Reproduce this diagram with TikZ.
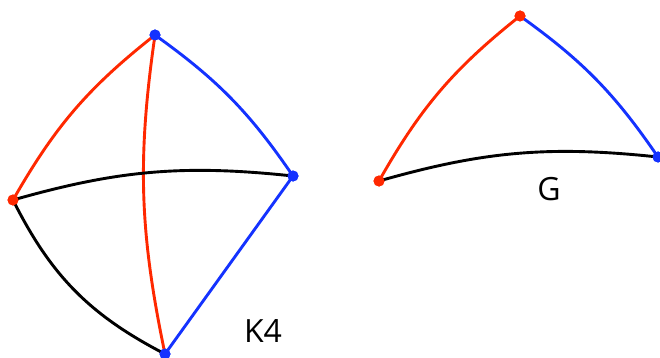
\documentclass[tikz,border=0pt]{standalone}
\usepackage{fontspec}
\setmainfont{Open Sans}
\definecolor{myred}{RGB}{255,40,0}
\definecolor{myblue}{RGB}{20,50,255}
\begin{document}
\begin{tikzpicture}[x=1pt,y=-1pt,
  vert/.style={circle,fill=#1,inner sep=0pt,minimum size=11pt},
  edge/.style={line width=2.9pt,draw=#1},
  lbl/.style={font=\fontsize{32}{34}\selectfont,inner sep=0pt,anchor=base}]
\useasboundingbox (0,0) rectangle (660,358);
% K4
\node[vert=myblue] (T) at (155,35) {};
\node[vert=myblue] (R) at (293,176) {};
\node[vert=myred] (L) at (13,200) {};
\node[vert=myblue] (B) at (165,354) {};
\draw[edge=myred] (L.center) to[bend left=11] (T.center);
\draw[edge=myred] (T.center) to[bend right=10] (B.center);
\draw[edge=myblue] (T.center) to[bend left=10] (R.center);
\draw[edge=black] (L.center) to[bend left=11] (R.center);
\draw[edge=black] (L.center) to[bend right=18] (B.center);
\draw[edge=myblue] (R.center) -- (B.center);
\node[vert=myblue] at (T) {};
\node[vert=myblue] at (R) {};
\node[vert=myred] at (L) {};
\node[vert=myblue] at (B) {};
\node[lbl] (k4) at (263,342) {K4};
% G
\node[vert=myred] (GT) at (520,16) {};
\node[vert=myred] (GL) at (379,181) {};
\node[vert=myblue] (GR) at (658,157) {};
\draw[edge=myred] (GL.center) to[bend left=11] (GT.center);
\draw[edge=myblue] (GT.center) to[bend left=10] (GR.center);
\draw[edge=black] (GL.center) to[bend left=11] (GR.center);
\node[vert=myred] at (GT) {};
\node[vert=myred] at (GL) {};
\node[vert=myblue] at (GR) {};
\node[lbl] (g) at (549,200) {G};
\end{tikzpicture}
\end{document}
